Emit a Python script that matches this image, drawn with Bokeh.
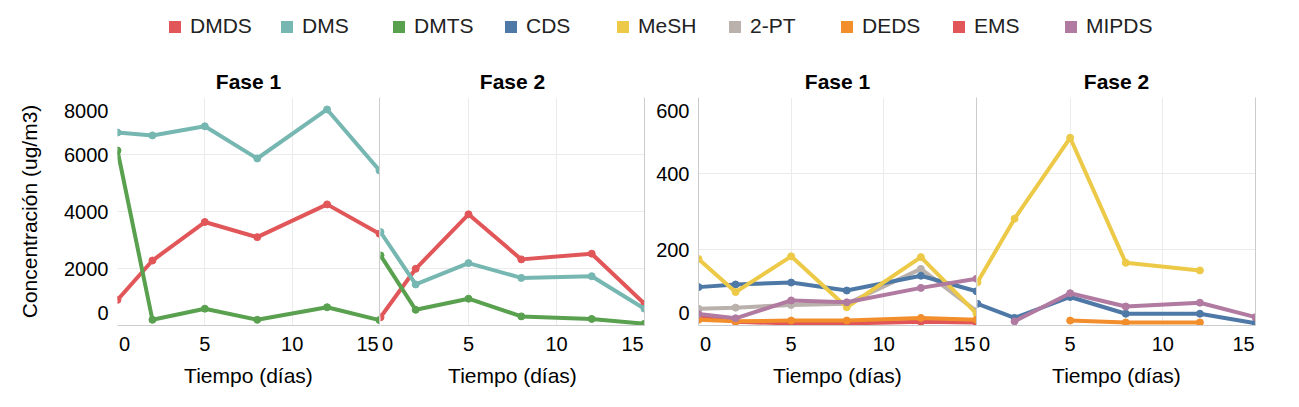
from bokeh.plotting import figure
from bokeh.models import Range1d, FixedTicker, Legend, LegendItem, LinearAxis
from bokeh.layouts import column, row
from bokeh.embed import file_html
from bokeh.resources import INLINE

nan = float("nan")
FONT = "Liberation Sans"

# ---------------- data ----------------
dias = [0, 2, 5, 8, 12, 15]
fases = ["Fase 1", "Fase 2"]
x_titulo = "Tiempo (días)"
y_titulo = "Concentración (ug/m3)"

compuestos = ["DMDS", "DMS", "DMTS", "CDS", "MeSH", "2-PT", "DEDS", "EMS", "MIPDS"]
colores = ["#E15759", "#76B7B2", "#59A14F", "#4E79A7", "#EDC948",
           "#BAB0AC", "#F28E2B", "#E15759", "#B07AA1"]

# left chart (ug/m3)
dmds_f1 = [900, 2280, 3630, 3100, 4250, 3220]
dms_f1 = [6770, 6670, 6990, 5860, 7580, 5440]
dmts_f1 = [6140, 200, 590, 200, 640, 190]
dmds_f2 = [290, 1990, 3900, 2320, 2520, 760]
dms_f2 = [3280, 1440, 2190, 1670, 1730, 590]
dmts_f2 = [2460, 550, 940, 320, 230, 60]

# right chart (ug/m3)
cds_f1 = [101, 108, 113, 92, 131, 90]
mesh_f1 = [175, 88, 182, 48, 180, 31]
pt2_f1 = [44, 47, 54, 57, 149, 38]
deds_f1 = [15, 11, 13, 13, 20, 15]
ems_f1 = [26, 10, 5, 5, 10, 8]
mipds_f1 = [30, 19, 66, 61, 99, 123]

cds_f2 = [57, 20, 75, 31, 31, 6]
mesh_f2 = [114, 281, 494, 165, 145, nan]
pt2_f2 = [nan, nan, nan, nan, nan, nan]
deds_f2 = [nan, nan, 13, 8, 8, nan]
ems_f2 = [nan, nan, nan, nan, nan, nan]
mipds_f2 = [nan, 11, 85, 50, 60, 22]

x_tick_labels = ["0", "5", "10", "15"]
y_tick_labels_L = ["0", "2000", "4000", "6000", "8000"]
y_tick_labels_R = ["0", "200", "400", "600"]

# ---------------- layout constants ----------------
LEG_H = 50
H_FRAME = 228
TOP, BOTTOM = 47, 80
FIG_H = TOP + H_FRAME + BOTTOM
GRID = "#ebebeb"
BORDER = "#cccccc"


def make_panel(title, frame_w, left, right, ymax, ygrid, ylabels, ylab, yaxis_on, yline, series):
    p = figure(width=left + frame_w + right, height=FIG_H,
               x_range=Range1d(0, 15), y_range=Range1d(0, ymax),
               toolbar_location=None, output_backend="svg",
               min_border_left=left, min_border_right=right,
               min_border_top=TOP, min_border_bottom=BOTTOM,
               outline_line_color=None, title=title)
    p.title.align = "center"
    p.title.text_font = FONT
    p.title.text_font_size = "21px"
    p.title.text_font_style = "bold"
    p.title.text_color = "black"
    p.title.standoff = 10

    ux = 15.0 / frame_w
    uy = ymax / H_FRAME
    # edge tick labels nudged inside the panel, as in the reference
    xt = [7 * ux, 5, 10, 15 - 12 * ux]
    xa = p.xaxis[0]
    xa.bounds = (0, 15)
    xa.ticker = FixedTicker(ticks=xt)
    xa.major_label_overrides = {t: s for t, s in zip(xt, x_tick_labels)}
    xa.major_tick_line_color = None
    xa.minor_tick_line_color = None
    xa.major_tick_out = 0
    xa.minor_tick_out = 0
    xa.axis_line_color = BORDER
    xa.major_label_text_font = FONT
    xa.major_label_text_font_size = "20px"
    xa.major_label_text_color = "black"
    xa.major_label_standoff = 11
    xa.axis_label = x_titulo
    xa.axis_label_text_font = FONT
    xa.axis_label_text_font_size = "21px"
    xa.axis_label_text_font_style = "normal"
    xa.axis_label_text_color = "black"
    xa.axis_label_standoff = 10

    ya = p.yaxis[0]
    if yaxis_on:
        yt = [float(s) for s in ylabels]
        yt[0] = 13 * uy
        yt[-1] = ymax - 13 * uy
        ya.bounds = (0, ymax)
        ya.ticker = FixedTicker(ticks=yt)
        ya.major_label_overrides = {t: s for t, s in zip(yt, ylabels)}
        ya.major_tick_line_color = None
        ya.minor_tick_line_color = None
        ya.major_tick_out = 0
        ya.minor_tick_out = 0
        ya.axis_line_color = BORDER if yline else None
        ya.major_label_text_font = FONT
        ya.major_label_text_font_size = "20px"
        ya.major_label_text_color = "black"
        ya.major_label_standoff = 9
        if ylab:
            ya.axis_label = ylab
            ya.axis_label_text_font = FONT
            ya.axis_label_text_font_size = "21px"
            ya.axis_label_text_font_style = "normal"
            ya.axis_label_text_color = "black"
            ya.axis_label_standoff = 20
    else:
        ya.visible = False

    # panel separator on the right edge: a bare axis line over the full height
    ra = LinearAxis(ticker=FixedTicker(ticks=[]), bounds=(0, ymax),
                    axis_line_color=BORDER, axis_line_width=1,
                    major_tick_out=0, minor_tick_out=0, major_tick_in=0, minor_tick_in=0,
                    major_label_standoff=0, major_label_text_font_size="0px")
    p.add_layout(ra, "right")

    p.xgrid.ticker = FixedTicker(ticks=[5, 10])
    p.ygrid.ticker = FixedTicker(ticks=ygrid)
    p.xgrid.grid_line_color = GRID
    p.ygrid.grid_line_color = GRID

    for col, vals in series:
        p.line(dias, vals, line_color=col, line_width=4, line_join="round")
        p.scatter(dias, vals, size=7, fill_color=col, line_color=col)
    return p


ygL = [2000, 4000, 6000, 8000]
ygR = [200, 400, 600]

fL1 = make_panel(fases[0], 262, 117, 1, 8000, ygL, y_tick_labels_L, y_titulo, True, False,
                 [(colores[0], dmds_f1), (colores[1], dms_f1), (colores[2], dmts_f1)])
fL2 = make_panel(fases[1], 264, 0, 9, 8000, ygL, y_tick_labels_L, None, False, False,
                 [(colores[0], dmds_f2), (colores[1], dms_f2), (colores[2], dmts_f2)])
fR1 = make_panel(fases[0], 279, 44, 1, 600, ygR, y_tick_labels_R, None, True, True,
                 [(colores[5], pt2_f1), (colores[3], cds_f1), (colores[4], mesh_f1),
                  (colores[7], ems_f1), (colores[6], deds_f1), (colores[8], mipds_f1)])
fR2 = make_panel(fases[1], 278, 0, 10, 600, ygR, y_tick_labels_R, None, False, False,
                 [(colores[5], pt2_f2), (colores[3], cds_f2), (colores[4], mesh_f2),
                  (colores[7], ems_f2), (colores[6], deds_f2), (colores[8], mipds_f2)])

# ---------------- legend ----------------
total_w = fL1.width + fL2.width + fR1.width + fR2.width
leg = figure(width=total_w, height=LEG_H, x_range=Range1d(0, 1), y_range=Range1d(0, 1),
             toolbar_location=None, output_backend="svg", min_border=0,
             x_axis_location=None, y_axis_location=None, outline_line_color=None)
leg.grid.visible = False
items = []
for name, col in zip(compuestos, colores):
    r = leg.quad(left=[nan], right=[nan], top=[nan], bottom=[nan], fill_color=col, line_color=None)
    items.append(LegendItem(label=name, renderers=[r]))
legend = Legend(items=items, orientation="horizontal", location=(167, 12),
                glyph_width=15, glyph_height=15, label_standoff=8, label_width=89,
                label_height=24, spacing=0, padding=0, margin=0,
                border_line_color=None, background_fill_alpha=0,
                label_text_font=FONT, label_text_font_size="21px", label_text_color="#222222")
leg.add_layout(legend, "center")

page = column(leg, row(fL1, fL2, fR1, fR2))
open("out.html", "w").write(file_html(page, INLINE))
